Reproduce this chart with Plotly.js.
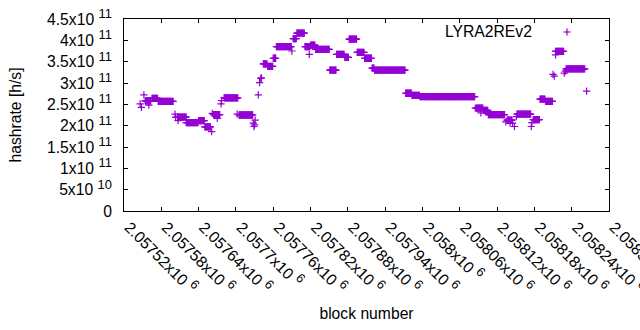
<!DOCTYPE html>
<html><head><meta charset="utf-8">
<script src="https://cdn.plot.ly/plotly-3.0.1.min.js"></script>
<style>html,body{margin:0;padding:0;background:#fff}#chart{width:640px;height:330px}</style>
</head><body><div id="chart"></div>
<script>
const seriesName = "LYRA2REv2";
// runs of consecutive blocks sharing the same hashrate (start block, end block, value)
const runStart = [2057546,2057548,2057552,2057554,2057560,2057565,2057575,2057602,2057603,2057607,2057606,2057620,2057640,2057650,2057661,2057662,2057664,2057670,2057676,2057677,2057681,2057702,2057705,2057728,2057729,2057730,2057731,2057736,2057738,2057740,2057741,2057744,2057751,2057760,2057765,2057790,2057792,2057798,2057811,2057818,2057820,2057828,2057851,2057862,2057875,2057882,2057895,2057907,2057919,2057923,2057973,2057983,2057996,2058085,2058087,2058094,2058098,2058106,2058134,2058136,2058141,2058145,2058148,2058151,2058152,2058175,2058176,2058178,2058189,2058198,2058210,2058212,2058214,2058214,2058228,2058230,2058231,2058264];
const runEnd   = [2057546,2057548,2057552,2057563,2057560,2057574,2057599,2057602,2057603,2057607,2057620,2057639,2057649,2057659,2057661,2057662,2057674,2057670,2057676,2057677,2057703,2057702,2057727,2057728,2057729,2057730,2057731,2057736,2057738,2057740,2057741,2057750,2057759,2057764,2057789,2057790,2057797,2057810,2057819,2057818,2057827,2057850,2057861,2057874,2057881,2057894,2057906,2057918,2057922,2057972,2057982,2057995,2058084,2058085,2058097,2058094,2058105,2058132,2058134,2058144,2058141,2058145,2058148,2058151,2058174,2058175,2058176,2058188,2058197,2058209,2058210,2058212,2058214,2058227,2058228,2058230,2058261,2058264];
const runValue = [2.51e11,2.43e11,2.72e11,2.58e11,2.48e11,2.64e11,2.57e11,2.27e11,2.20e11,2.12e11,2.20e11,2.07e11,2.12e11,1.97e11,1.86e11,2.29e11,2.26e11,2.17e11,2.51e11,2.59e11,2.65e11,2.27e11,2.25e11,2.06e11,1.98e11,2.02e11,2.13e11,2.72e11,3.01e11,3.11e11,3.12e11,3.45e11,3.39e11,3.58e11,3.85e11,3.75e11,4.04e11,4.17e11,3.85e11,3.67e11,3.89e11,3.79e11,3.30e11,3.67e11,3.60e11,4.03e11,3.72e11,3.58e11,3.35e11,3.30e11,2.76e11,2.71e11,2.68e11,2.41e11,2.41e11,2.30e11,2.36e11,2.26e11,2.09e11,2.13e11,2.06e11,2.06e11,1.98e11,2.21e11,2.27e11,1.98e11,2.07e11,2.14e11,2.62e11,2.57e11,3.20e11,3.16e11,3.66e11,3.74e11,3.23e11,3.28e11,3.33e11,2.81e11];

const xTickVals = [2057520,2057580,2057640,2057700,2057760,2057820,2057880,2057940,2058000,2058060,2058120,2058180,2058240,2058300];
const xTickMantissa = ["2.05752","2.05758","2.05764","2.0577","2.05776","2.05782","2.05788","2.05794","2.058","2.05806","2.05812","2.05818","2.05824","2.0583"];
const xTickExp = ["6","6","6","6","6","6","6","6","6","6","6","6","6","6"];
const yTickVals = [0,5e10,1e11,1.5e11,2e11,2.5e11,3e11,3.5e11,4e11,4.5e11];
const yTickMantissa = ["0","5","1","1.5","2","2.5","3","3.5","4","4.5"];
const yTickExp = ["","10","11","11","11","11","11","11","11","11"];

const FS = 15.7;
const supSpan = e => ' <sup><span style="font-size:' + (FS * 0.82).toFixed(1) + 'px">' + e + '</span></sup>';
const sci = (m, e) => e === '' ? m : m + 'x10' + supSpan(e);
const xTickText = xTickMantissa.map((m, i) => sci(m, xTickExp[i]));
const yTickText = yTickMantissa.map((m, i) => sci(m, yTickExp[i]));

const xs = [], ys = [];
for (let i = 0; i < runStart.length; i++) {
  for (let b = runStart[i]; b <= runEnd[i]; b++) { xs.push(b); ys.push(runValue[i]); }
}

const color = '#9400d3';
const font = {family: 'Liberation Sans, Arial, sans-serif', size: FS, color: '#000'};

const trace = {
  x: xs, y: ys, type: 'scatter', mode: 'markers', name: seriesName,
  marker: {symbol: 'cross-thin', size: 5.2, color: color, line: {color: color, width: 1.2}},
  showlegend: false, hoverinfo: 'skip'
};

const L = 124, R = 31, T = 19, B = 119;
const layout = {
  width: 640, height: 330,
  margin: {l: L, r: R, t: T, b: B, pad: 0},
  paper_bgcolor: '#fff', plot_bgcolor: '#fff',
  font: font,
  showlegend: false,
  xaxis: {
    range: [2057520, 2058300], tickmode: 'array', tickvals: xTickVals, ticktext: xTickText,
    tickangle: 45, ticks: 'inside', ticklen: 4, tickcolor: '#000', tickwidth: 1,
    showline: true, linecolor: '#000', linewidth: 1, mirror: 'ticks',
    showgrid: false, zeroline: false, automargin: false, ticklabeloverflow: 'allow',
    tickfont: font, ticklabelstandoff: 0, ticklabelshift: 5,
    title: {text: 'block number', font: font, standoff: 12}
  },
  yaxis: {
    range: [0, 4.5e11], tickmode: 'array', tickvals: yTickVals, ticktext: yTickText,
    ticks: 'inside', ticklen: 4, tickcolor: '#000', tickwidth: 1,
    showline: true, linecolor: '#000', linewidth: 1, mirror: 'ticks',
    showgrid: false, zeroline: false, automargin: false, ticklabeloverflow: 'allow',
    tickfont: font, ticklabelstandoff: 8,
    title: {text: 'hashrate [h/s]', font: font, standoff: 21}
  },
  annotations: [{
    xref: 'paper', yref: 'paper', x: (534 - L) / 485, y: (211 - 31) / 192,
    xanchor: 'right', yanchor: 'middle', showarrow: false,
    text: seriesName, font: font
  }],
  shapes: [
    {type: 'line', xref: 'paper', yref: 'paper', xsizemode: 'pixel', ysizemode: 'pixel',
     xanchor: (567 - L) / 485, yanchor: (211 - 32) / 192, x0: -3.5, x1: 3.5, y0: 0, y1: 0,
     line: {color: color, width: 1.2}},
    {type: 'line', xref: 'paper', yref: 'paper', xsizemode: 'pixel', ysizemode: 'pixel',
     xanchor: (567 - L) / 485, yanchor: (211 - 32) / 192, x0: 0, x1: 0, y0: -3.5, y1: 3.5,
     line: {color: color, width: 1.2}}
  ]
};

Plotly.newPlot('chart', [trace], layout, {staticPlot: true, displayModeBar: false});
</script>
</body></html>
